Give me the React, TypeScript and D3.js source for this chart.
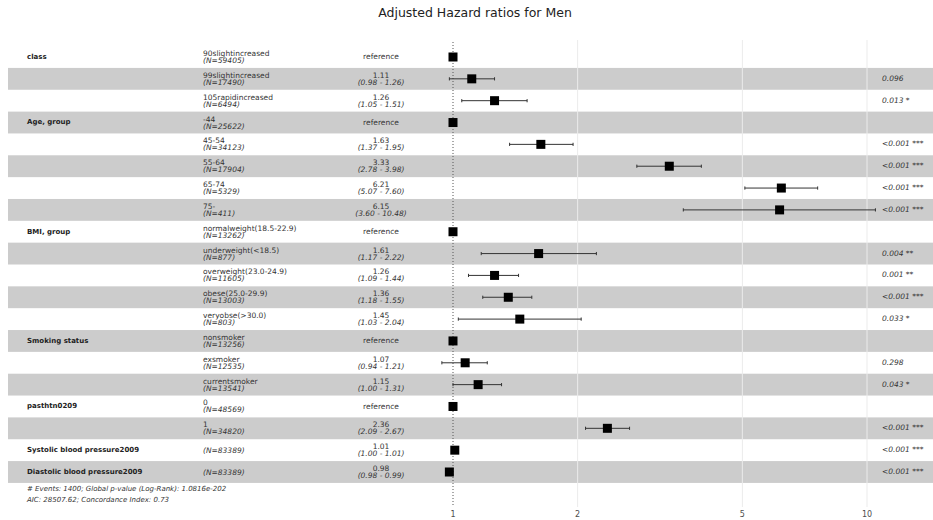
import React, { useRef, useEffect } from 'react';
import * as d3 from 'd3';

const WIDTH = 933;
const HEIGHT = 520;
const FONT = 'DejaVu Sans, sans-serif';

// one entry per row of the forest plot
const varNames = ['class', '', '', 'Age, group', '', '', '', '', 'BMI, group', '', '', '', '', 'Smoking status', '', '', 'pasthtn0209', '', 'Systolic blood pressure2009', 'Diastolic blood pressure2009'];
const levelNames = ['90slightincreased', '99slightincreased', '105rapidincreased', '-44', '45-54', '55-64', '65-74', '75-', 'normalweight(18.5-22.9)', 'underweight(<18.5)', 'overweight(23.0-24.9)', 'obese(25.0-29.9)', 'veryobse(>30.0)', 'nonsmoker', 'exsmoker', 'currentsmoker', '0', '1', '', ''];
const counts = [59405, 17490, 6494, 25622, 34123, 17904, 5329, 411, 13262, 877, 11605, 13003, 803, 13256, 12535, 13541, 48569, 34820, 83389, 83389];
const estimates = [1, 1.11, 1.26, 1, 1.63, 3.33, 6.21, 6.15, 1, 1.61, 1.26, 1.36, 1.45, 1, 1.07, 1.15, 1, 2.36, 1.01, 0.98];
const lower = [null, 0.98, 1.05, null, 1.37, 2.78, 5.07, 3.6, null, 1.17, 1.09, 1.18, 1.03, null, 0.94, 1.0, null, 2.09, 1.0, 0.98];
const upper = [null, 1.26, 1.51, null, 1.95, 3.98, 7.6, 10.48, null, 2.22, 1.44, 1.55, 2.04, null, 1.21, 1.31, null, 2.67, 1.01, 0.99];
const pValues = ['', '0.096', '0.013 *', '', '<0.001 ***', '<0.001 ***', '<0.001 ***', '<0.001 ***', '', '0.004 **', '0.001 **', '<0.001 ***', '0.033 *', '', '0.298', '0.043 *', '', '<0.001 ***', '<0.001 ***', '<0.001 ***'];
const xTicks = [1, 2, 5, 10];
const footer = ['# Events: 1400; Global p-value (Log-Rank): 1.0816e-202', 'AIC: 28507.62; Concordance Index: 0.73'];

export default function App() {
  const svgRef = useRef<SVGSVGElement>(null);

  useEffect(() => {
    if (!svgRef.current) return;
    const svg = d3.select(svgRef.current);
    svg.selectAll('*').remove();

    const n = estimates.length;
    const x = d3.scaleLog().domain([1, 10]).range([453, 867]);
    const y = d3.scaleLinear().domain([0, n - 1]).range([57, 472]);
    const rowH = y(1) - y(0);
    const fmt = d3.format('.2f');

    // zebra bands
    d3.range(n).forEach((i) => {
      if (i % 2 === 1) {
        svg.append('rect')
          .attr('x', 8)
          .attr('y', y(i) - rowH / 2)
          .attr('width', WIDTH - 8)
          .attr('height', rowH)
          .attr('fill', '#cccccc');
      }
    });

    // faint grid at 2, 5, 10
    xTicks.slice(1).forEach((t) => {
      svg.append('line')
        .attr('x1', x(t)).attr('x2', x(t))
        .attr('y1', 40).attr('y2', 507)
        .attr('stroke', '#ebebeb')
        .attr('stroke-width', 1);
    });

    // reference line at HR = 1
    svg.append('line')
      .attr('x1', x(1)).attr('x2', x(1))
      .attr('y1', 42).attr('y2', 507)
      .attr('stroke', '#555')
      .attr('stroke-width', 1)
      .attr('stroke-dasharray', '1,2');

    // tick labels
    xTicks.forEach((t) => {
      svg.append('text')
        .attr('x', x(t)).attr('y', 517)
        .attr('text-anchor', 'middle')
        .attr('font-size', '8px')
        .attr('font-family', FONT)
        .attr('fill', '#4d4d4d')
        .text(String(t));
    });

    const txt = (xx: number, yy: number, s: string, opts: { size?: number; weight?: string; italic?: boolean; anchor?: string; fill?: string; baseline?: string } = {}) =>
      svg.append('text')
        .attr('x', xx).attr('y', yy)
        .attr('text-anchor', opts.anchor ?? 'start')
        .attr('dominant-baseline', opts.baseline ?? 'auto')
        .attr('font-size', `${opts.size ?? 7.5}px`)
        .attr('font-weight', opts.weight ?? 'normal')
        .attr('font-style', opts.italic ? 'italic' : 'normal')
        .attr('font-family', FONT)
        .attr('fill', opts.fill ?? '#333')
        .text(s);

    d3.range(n).forEach((i) => {
      const cy = y(i);
      if (varNames[i]) txt(27, cy, varNames[i], { weight: 'bold', size: 7, baseline: 'middle', fill: '#222' });

      if (levelNames[i]) {
        txt(203, cy - 1, levelNames[i]);
        txt(203, cy + 6, `(N=${counts[i]})`, { italic: true });
      } else {
        txt(203, cy + 2.5, `(N=${counts[i]})`, { italic: true });
      }

      const lo = lower[i];
      const hi = upper[i];
      if (lo == null || hi == null) {
        txt(381, cy, 'reference', { anchor: 'middle', baseline: 'middle' });
      } else {
        txt(381, cy - 1, fmt(estimates[i]), { anchor: 'middle' });
        txt(381, cy + 6, `(${fmt(lo)} - ${fmt(hi)})`, { anchor: 'middle', italic: true });

        // CI whisker
        svg.append('line')
          .attr('x1', x(lo)).attr('x2', x(hi))
          .attr('y1', cy).attr('y2', cy)
          .attr('stroke', '#333').attr('stroke-width', 1);
        [lo, hi].forEach((v) => {
          svg.append('line')
            .attr('x1', x(v)).attr('x2', x(v))
            .attr('y1', cy - 1.6).attr('y2', cy + 1.6)
            .attr('stroke', '#333').attr('stroke-width', 1);
        });
      }

      // point estimate
      svg.append('rect')
        .attr('x', x(estimates[i]) - 4.5)
        .attr('y', cy - 4.5)
        .attr('width', 9).attr('height', 9)
        .attr('fill', '#000');

      if (pValues[i]) txt(882, cy, pValues[i], { italic: true, baseline: 'middle' });
    });

    footer.forEach((line, k) => {
      txt(27, 491 + k * 11, line, { italic: true, size: 7 });
    });

    txt(475, 17, 'Adjusted Hazard ratios for Men', { anchor: 'middle', size: 12.5, fill: '#222' });
  }, []);

  return (
    <svg
      ref={svgRef}
      width={WIDTH}
      height={HEIGHT}
      viewBox={`0 0 ${WIDTH} ${HEIGHT}`}
      style={{ position: 'absolute', left: 0, top: 0, background: '#fff' }}
    />
  );
}
